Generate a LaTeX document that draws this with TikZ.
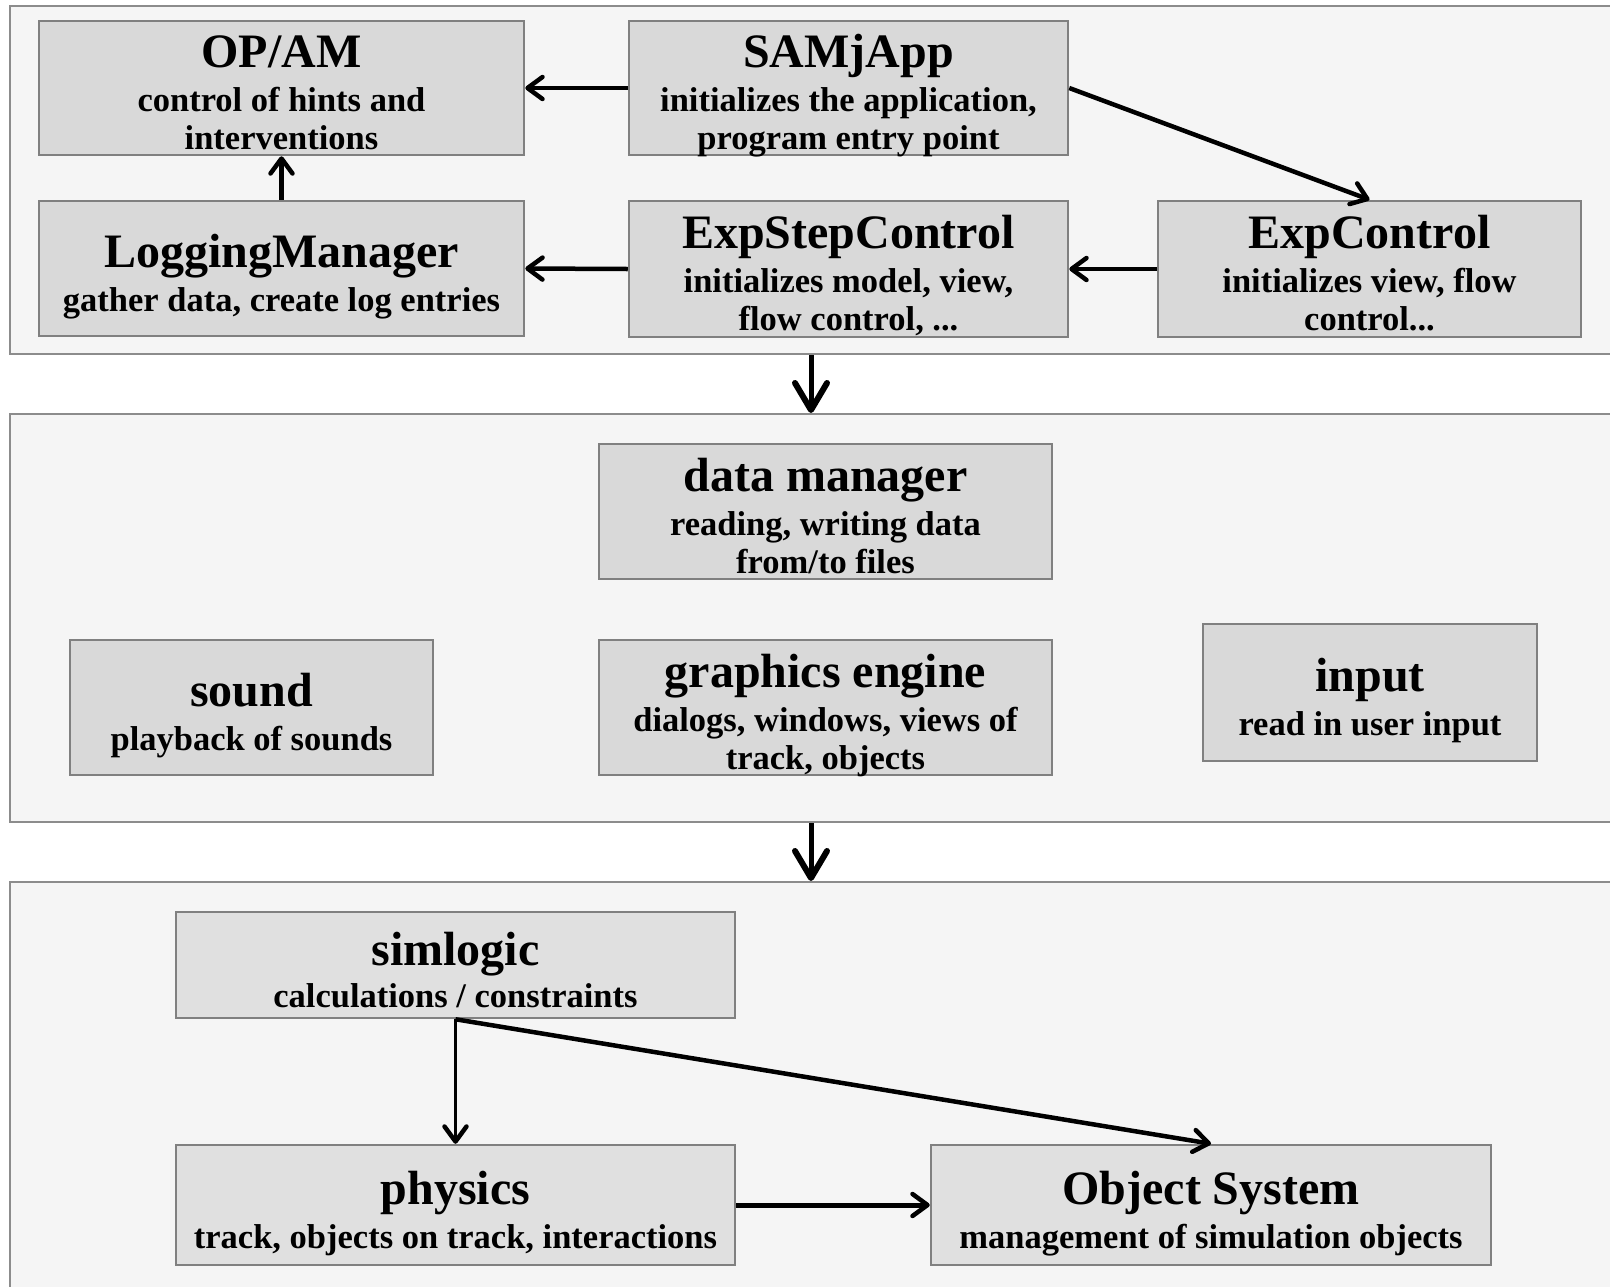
\documentclass[tikz,border=0pt]{standalone}
\usepackage{fontspec}
\setmainfont{Liberation Serif}
\usetikzlibrary{arrows.meta}
\definecolor{panelfill}{HTML}{F5F5F5}
\definecolor{panelline}{HTML}{8C8C8C}
\definecolor{boxfill}{HTML}{D9D9D9}
\definecolor{boxfillb}{HTML}{E0E0E0}
\definecolor{boxline}{HTML}{808080}
\newcommand\ttlf{\bfseries\fontsize{48}{52}\selectfont}
\newcommand\subf{\bfseries\fontsize{34.5}{38}\selectfont}
\newcommand\strutA{\rule{0pt}{50pt}}
\newcommand\strutB{\rule{0pt}{50pt}}
\newcommand\strutC{\rule{0pt}{44pt}}
\newcommand\dstrut{\rule[-9pt]{0pt}{9pt}}
\tikzset{
  panel/.style={draw=panelline, fill=panelfill, line width=2pt, rectangle, inner sep=0pt},
  comp/.style={draw=boxline, fill=boxfill, line width=2.5pt, rectangle, inner xsep=0pt, inner ysep=-8pt, align=center, font=\subf},
  compb/.style={comp, fill=boxfillb},
  arr/.style={line width=4.5pt, -{Straight Barb[length=15pt,width=22pt,line width=4.5pt,round]}},
  panelarr/.style={line width=5pt, -{Straight Barb[length=27pt,width=32pt,line width=6pt,round]}},
}
\begin{document}
\begin{tikzpicture}[x=1pt,y=-1pt]
\useasboundingbox (0,0) rectangle (1610,1286);
\clip (0,0) rectangle (1610,1286);
% panels
\node[panel, minimum width=1631pt, minimum height=348pt, anchor=north west] (p1) at (9,5) {};
\node[panel, minimum width=1631pt, minimum height=408pt, anchor=north west] (p2) at (9,413) {};
\node[panel, minimum width=1631pt, minimum height=419pt, anchor=north west] (p3) at (9,881) {};
% top panel boxes
\node[comp, minimum width=485pt, minimum height=134pt] (opam) at (281.5,88) {{\ttlf\strutA OP/AM}\\[6pt]control of hints and\\interventions\dstrut};
\node[comp, minimum width=439pt, minimum height=134pt] (samj) at (848.5,88) {{\ttlf\strutA SAMjApp}\\[6pt]initializes the application,\\program entry point\dstrut};
\node[comp, minimum width=485pt, minimum height=135pt] (logm) at (281.5,268.5) {{\ttlf\strutB LoggingManager}\\[6pt]gather data, create log entries};
\node[comp, minimum width=439pt, minimum height=136pt] (esc) at (848.5,269) {{\ttlf\strutA ExpStepControl}\\[6pt]initializes model, view,\\flow control, ...\dstrut};
\node[comp, minimum width=423pt, minimum height=136pt] (expc) at (1369.5,269) {{\ttlf\strutA ExpControl}\\[6pt]initializes view, flow\\control...\dstrut};
% middle panel boxes
\node[comp, minimum width=453pt, minimum height=135pt] (dm) at (825.5,511.5) {{\ttlf\strutA data manager}\\[6pt]reading, writing data\\from/to files\dstrut};
\node[comp, minimum width=363pt, minimum height=135pt] (snd) at (251.5,707.5) {{\ttlf\strutB sound}\\[6pt]playback of sounds};
\node[comp, minimum width=453pt, minimum height=135pt] (gfx) at (825.5,707.5) {{\ttlf\strutA graphics engine}\\[6pt]dialogs, windows, views of\\track, objects\dstrut};
\node[comp, minimum width=334pt, minimum height=137pt] (inp) at (1370,692.5) {{\ttlf\strutB input}\\[6pt]read in user input};
% bottom panel boxes
\node[compb, minimum width=559pt, minimum height=106pt] (siml) at (455.5,965) {{\ttlf\strutC simlogic}\\[4pt]calculations / constraints};
\node[compb, minimum width=559pt, minimum height=120pt] (phys) at (455.5,1205) {{\ttlf\strutB physics}\\[6pt]track, objects on track, interactions};
\node[compb, minimum width=560pt, minimum height=120pt] (objs) at (1211,1205) {{\ttlf\strutB Object System}\\[6pt]management of simulation objects};
% connectors
\draw[arr] (samj.west) -- (opam.east);
\draw[arr] (logm.north) -- (opam.south);
\draw[arr] (esc.west) -- (logm.east);
\draw[arr] (expc.west) -- (esc.east);
\draw[arr] (samj.east) -- (expc.north);
\coordinate (xa) at (811,0);
\draw[panelarr] (xa |- p1.south) -- (xa |- p2.north);
\draw[panelarr] (xa |- p2.south) -- (xa |- p3.north);
\draw[arr, line width=3pt] (siml.south) -- (phys.north);
\draw[arr] (siml.south) -- (objs.north);
\draw[arr, line width=5pt] (phys.east) -- (objs.west);
\end{tikzpicture}
\end{document}
